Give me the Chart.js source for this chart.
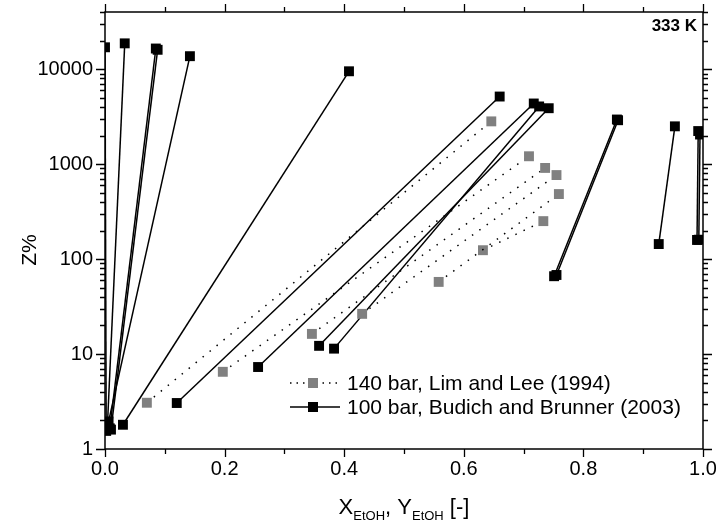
<!DOCTYPE html>
<html>
<head>
<meta charset="utf-8">
<script src="https://cdn.jsdelivr.net/npm/chart.js@4"></script>
<style>
  html, body { margin: 0; padding: 0; background: #fff; }
  #wrap { width: 716px; height: 526px; }
</style>
</head>
<body>
<div id="wrap"><canvas id="chart" width="716" height="526"></canvas></div>
<script>
// 140 bar, Lim and Lee (1994): tie-line ends (low Z end / high Z end)
const limXLow = [0.070, 0.197, 0.346, 0.430, 0.558, 0.632];
const limZLow = [3.07, 6.5, 16.3, 26.5, 57.5, 124];
const limXHigh = [0.646, 0.709, 0.736, 0.755, 0.759, 0.733];
const limZHigh = [2820, 1210, 912, 767, 484, 251];

// 100 bar, Budich and Brunner (2003)
const budXLow = [0.002, 0.004, 0.008, 0.010, 0.006, 0.030, 0.120, 0.256, 0.383, 0.358, 0.751, 0.755, 0.926, 0.990, 0.993];
const budZLow = [1.55, 1.75, 1.65, 1.60, 1.95, 1.80, 3.05, 7.3, 11.4, 12.2, 66, 68, 144, 159, 160];
const budXHigh = [0.000, 0.033, 0.085, 0.088, 0.142, 0.408, 0.660, 0.717, 0.726, 0.742, 0.856, 0.858, 0.953, 0.992, 0.995];
const budZHigh = [17000, 18700, 16500, 16000, 13700, 9500, 5150, 4350, 4050, 3880, 2950, 2900, 2500, 2230, 2050];

// axis ticks
const xTickVals = [0, 0.1, 0.2, 0.3, 0.4, 0.5, 0.6, 0.7, 0.8, 0.9, 1.0];
const xLabelVals = [0, 0.2, 0.4, 0.6, 0.8, 1.0];
const yTickVals = [1, 2, 3, 4, 5, 6, 7, 8, 9,
  10, 20, 30, 40, 50, 60, 70, 80, 90,
  100, 200, 300, 400, 500, 600, 700, 800, 900,
  1000, 2000, 3000, 4000, 5000, 6000, 7000, 8000, 9000,
  10000, 20000, 30000, 40000];
const yLabelVals = [1, 10, 100, 1000, 10000];

const FONT = 'Liberation Sans, Arial, Helvetica, sans-serif';

const datasets = [];
limXLow.forEach((x, i) => {
  datasets.push({
    data: [{x: x, y: limZLow[i]}, {x: limXHigh[i], y: limZHigh[i]}],
    showLine: true,
    borderColor: '#000',
    borderWidth: 1.5,
    borderDash: [1.5, 7.5],
    pointStyle: 'rect',
    pointRadius: 7,
    pointBackgroundColor: '#808080',
    pointBorderColor: '#808080',
    pointBorderWidth: 0
  });
});
budXLow.forEach((x, i) => {
  datasets.push({
    data: [{x: x, y: budZLow[i]}, {x: budXHigh[i], y: budZHigh[i]}],
    showLine: true,
    borderColor: '#000',
    borderWidth: 1.5,
    pointStyle: 'rect',
    pointRadius: 7,
    pointBackgroundColor: '#000',
    pointBorderColor: '#000',
    pointBorderWidth: 0
  });
});

function isIn(list, v) {
  return list.some(l => Math.abs(l - v) < 1e-9 * Math.max(1, Math.abs(l)));
}

// frame, tick marks, legend and titles
const decorPlugin = {
  id: 'decor',
  afterDraw(chart) {
    const ctx = chart.ctx;
    const a = chart.chartArea;
    const xs = chart.scales.x, ys = chart.scales.y;
    ctx.save();
    ctx.strokeStyle = '#000';
    ctx.lineWidth = 1.5;
    ctx.strokeRect(a.left, a.top, a.right - a.left, a.bottom - a.top);

    ctx.lineWidth = 1.3;
    ctx.beginPath();
    xTickVals.forEach(v => {
      const px = Math.round(xs.getPixelForValue(v)) + 0.5;
      const len = isIn(xLabelVals, v) ? 8 : 5;
      ctx.moveTo(px, a.bottom); ctx.lineTo(px, a.bottom + len);
      ctx.moveTo(px, a.top); ctx.lineTo(px, a.top - len);
    });
    yTickVals.forEach(v => {
      const py = Math.round(ys.getPixelForValue(v)) + 0.5;
      const len = isIn(yLabelVals, v) ? 9 : 5;
      ctx.moveTo(a.left, py); ctx.lineTo(a.left - len, py);
      ctx.moveTo(a.right, py); ctx.lineTo(a.right + len, py);
    });
    ctx.stroke();

    // legend
    const rows = [
      {y: 383, dash: [1.5, 5], fill: '#808080', text: '140 bar, Lim and Lee (1994)'},
      {y: 407, dash: [], fill: '#000', text: '100 bar, Budich and Brunner (2003)'}
    ];
    rows.forEach(r => {
      ctx.setLineDash(r.dash);
      ctx.lineWidth = 1.5;
      ctx.beginPath();
      ctx.moveTo(290, r.y); ctx.lineTo(340, r.y);
      ctx.stroke();
      ctx.setLineDash([]);
      ctx.fillStyle = r.fill;
      ctx.fillRect(308, r.y - 5, 10, 10);
      ctx.fillStyle = '#000';
      ctx.font = '21px ' + FONT;
      ctx.textBaseline = 'middle';
      ctx.textAlign = 'left';
      ctx.fillText(r.text, 347, r.y + 1);
    });

    // temperature label
    ctx.font = 'bold 17px ' + FONT;
    ctx.textAlign = 'right';
    ctx.textBaseline = 'middle';
    ctx.fillText('333 K', 697, 26);

    // y title
    ctx.save();
    ctx.translate(30, 250);
    ctx.rotate(-Math.PI / 2);
    ctx.textAlign = 'center';
    ctx.font = '21px ' + FONT;
    ctx.fillText('Z%', 0, 0);
    ctx.restore();

    // x title with subscripts
    const parts = [
      {t: 'X', f: '22px ', dy: 0},
      {t: 'EtOH', f: '13px ', dy: 6},
      {t: ', Y', f: '22px ', dy: 0},
      {t: 'EtOH', f: '13px ', dy: 6},
      {t: ' [-]', f: '22px ', dy: 0}
    ];
    let total = 0;
    parts.forEach(p => { ctx.font = p.f + FONT; p.w = ctx.measureText(p.t).width; total += p.w; });
    let cx = (a.left + a.right) / 2 - total / 2;
    ctx.textAlign = 'left';
    ctx.textBaseline = 'alphabetic';
    parts.forEach(p => {
      ctx.font = p.f + FONT;
      ctx.fillText(p.t, cx, 514 + p.dy);
      cx += p.w;
    });
    ctx.restore();
  }
};

new Chart(document.getElementById('chart').getContext('2d'), {
  type: 'scatter',
  data: { datasets: datasets },
  options: {
    responsive: false,
    animation: false,
    layout: { padding: { left: 0, right: 13, top: 12, bottom: 0 } },
    plugins: { legend: { display: false }, tooltip: { enabled: false } },
    scales: {
      x: {
        type: 'linear',
        min: 0, max: 1,
        afterFit(scale) {
          scale.height = 77;
          scale.paddingLeft = 0; scale.paddingRight = 0;
        },
        afterBuildTicks(scale) { scale.ticks = xTickVals.map(v => ({value: v})); },
        grid: { display: false, drawTicks: false },
        border: { display: false },
        ticks: {
          autoSkip: false,
          maxRotation: 0,
          padding: 8,
          color: '#000',
          font: { family: FONT, size: 20 },
          callback: v => isIn(xLabelVals, v) ? v.toFixed(1) : ''
        }
      },
      y: {
        type: 'logarithmic',
        min: 1, max: 40000,
        afterFit(scale) {
          scale.width = 105;
          scale.paddingTop = 0; scale.paddingBottom = 0;
        },
        afterBuildTicks(scale) { scale.ticks = yTickVals.map(v => ({value: v})); },
        grid: { display: false, drawTicks: false },
        border: { display: false },
        ticks: {
          autoSkip: false,
          padding: 12,
          color: '#000',
          font: { family: FONT, size: 20 },
          callback: v => isIn(yLabelVals, v) ? String(v) : ''
        }
      }
    }
  },
  plugins: [decorPlugin]
});
</script>
</body>
</html>
